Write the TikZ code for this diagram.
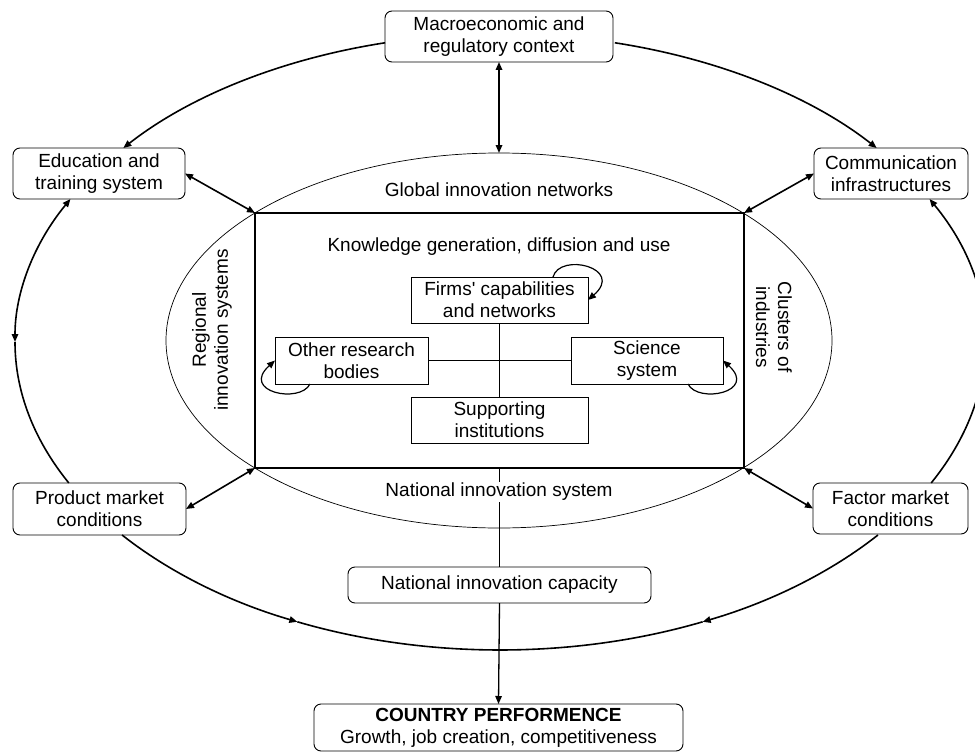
\documentclass[tikz,border=0pt]{standalone}
\usepackage{fontspec}
\setmainfont{Liberation Sans}
\usetikzlibrary{arrows.meta}
\begin{document}
\begin{tikzpicture}[x=1pt,y=1pt,
  >={Triangle[length=8pt,width=6.5pt]},
  txt/.style={font=\fontsize{19}{22}\selectfont, align=center, inner sep=0pt},
  rbox/.style={txt, draw, rounded corners=7pt, line width=0.9pt, outer sep=0pt},
  sbox/.style={txt, draw, line width=0.9pt, outer sep=0pt},
  arcline/.style={line width=1.6pt},
  link/.style={line width=1.6pt, <->},
  loopline/.style={line width=1.2pt, ->},
  ell/.style={x radius=485pt, y radius=308pt},
]
\useasboundingbox (0,0) rectangle (975,-752);

% inner ellipse
\draw[line width=0.7pt] (499,-340.5) ellipse [x radius=333pt, y radius=187.5pt];
\coordinate (itop) at (499,-153);

% core rectangle
\node[draw, line width=2pt, minimum width=489pt, minimum height=255pt, inner sep=0pt, outer sep=0pt] (core) at (499.5,-340.5) {};

% outer boxes
\node[rbox, minimum width=228pt, minimum height=51pt] (macro) at (499,-36.5) {Macroeconomic and\\regulatory context};
\node[rbox, minimum width=172pt, minimum height=51pt] (edu) at (99,-173.5) {Education and\\training system};
\node[rbox, minimum width=154pt, minimum height=51pt] (comm) at (891,-173.5) {Communication\\infrastructures};
\node[rbox, minimum width=173pt, minimum height=52pt] (prod) at (99.5,-509) {Product market\\conditions};
\node[rbox, minimum width=155pt, minimum height=51pt] (fact) at (890.5,-508.5) {Factor market\\conditions};
\node[rbox, minimum width=303pt, minimum height=36pt] (nic) at (499.5,-585) {National innovation capacity};
\node[rbox, minimum width=369pt, minimum height=47pt] (perf) at (498.5,-727.5) {\textbf{COUNTRY PERFORMENCE}\\Growth, job creation, competitiveness};

% inner boxes
\node[sbox, minimum width=177pt, minimum height=46pt] (firms) at (499.5,-300) {Firms\textquotesingle{} capabilities\\and networks};
\node[sbox, minimum width=153pt, minimum height=47pt] (other) at (351.5,-360.5) {Other research\\bodies};
\node[sbox, minimum width=152pt, minimum height=47pt] (sci) at (647,-360.5) {Science\\system};
\node[sbox, minimum width=177pt, minimum height=46pt] (supp) at (499.5,-420) {Supporting\\institutions};

% vertical flow
\draw[line width=1.3pt] (core.south) -- (nic.north);
\draw[line width=1.3pt, ->] (nic.south) -- (perf.north);

% labels
\node[txt] (gin) at (499,-190) {Global innovation networks};
\node[txt] (kgd) at (499,-247) {Knowledge generation, diffusion and use};
\node[txt, fill=white, inner sep=1pt] (nis) at (499,-492) {National innovation system};
\node[txt, rotate=90] (ris) at (212,-330) {Regional\\innovation systems};
\node[txt, rotate=-90] (coi) at (774,-327) {Clusters of\\industries};

% inner connectors
\draw[line width=0.9pt] (firms.south) -- (supp.north);
\draw[line width=0.9pt] (other.east) -- (sci.west);

% self loops
\draw[loopline] ([xshift=-35pt]firms.north east) .. controls (560,-252) and (625,-268) .. (firms.east);
\draw[loopline] ([xshift=35pt]other.south west) .. controls (300,-404) and (240,-392) .. (other.west);
\draw[loopline] ([xshift=-35pt]sci.south east) .. controls (698,-404) and (758,-392) .. (sci.east);

% links to core
\draw[link] (macro.south) -- (itop);
\draw[link] (edu.east) -- (core.north west);
\draw[link] (comm.west) -- (core.north east);
\draw[link] (prod.east) -- (core.south west);
\draw[link] (fact.west) -- (core.south east);

% outer ellipse arcs
\coordinate (o1) at ([shift={(500,-342)}]103.7:485pt and 308pt);
\coordinate (o2) at ([shift={(500,-342)}]76.3:485pt and 308pt);
\coordinate (o3) at ([shift={(500,-342)}]152.34:485pt and 308pt);
\coordinate (o4) at ([shift={(500,-342)}]180:485pt and 308pt);
\coordinate (o5) at ([shift={(500,-342)}]-27.24:485pt and 308pt);
\coordinate (o6) at ([shift={(500,-342)}]218.8:485pt and 308pt);
\coordinate (o7) at ([shift={(500,-342)}]245.3:485pt and 308pt);
\coordinate (o8) at ([shift={(500,-342)}]321.2:485pt and 308pt);

\draw[arcline, ->] (o1) arc[start angle=103.7, end angle=140.96, ell];
\draw[arcline, ->] (o2) arc[start angle=76.3, end angle=39.04, ell];
\draw[arcline, <->] (o3) arc[start angle=152.34, end angle=180, ell];
\draw[arcline] (o4) arc[start angle=180, end angle=207.24, ell];
\draw[arcline, ->] (o5) arc[start angle=-27.24, end angle=27.66, ell];
\draw[arcline, ->] (o6) arc[start angle=218.8, end angle=245.3, ell];
\draw[arcline] (o7) arc[start angle=245.3, end angle=294.7, ell];
\draw[arcline, ->] (o8) arc[start angle=321.2, end angle=294.7, ell];
\end{tikzpicture}
\end{document}
